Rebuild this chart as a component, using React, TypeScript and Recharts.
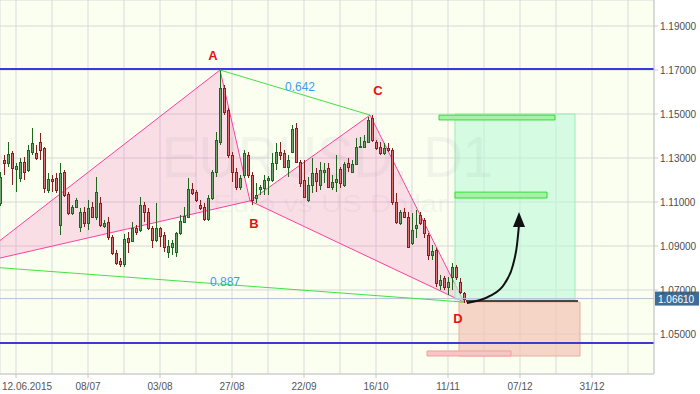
import React from "react";
import {
  ComposedChart,
  Bar,
  Area,
  Line,
  XAxis,
  YAxis,
  CartesianGrid,
  ReferenceLine,
  ReferenceArea,
  ReferenceDot,
} from "recharts";

// daily EURUSD bars, index 0 = 08.06.2015
const OPEN = [
  1.1095, 1.1291, 1.1277, 1.1323, 1.125, 1.1209, 1.1282, 1.1245, 1.1327, 1.1323,
  1.1373, 1.1345, 1.1155, 1.1205, 1.1209, 1.0995, 1.1236, 1.1136, 1.105, 1.1077,
  1.0986, 1.1055, 1.1005, 1.1077, 1.1032, 1.1095, 1.0991, 1.1009, 1.0941, 1.0868,
  1.0832, 1.0818, 1.0936, 1.0923, 1.0982, 1.0973, 1.1086, 1.1055, 1.0982, 1.0927,
  1.0982, 1.095, 1.0873, 1.0895, 1.0873, 1.0959, 1.1009, 1.1032, 1.1159, 1.1146,
  1.1086, 1.1077, 1.1023, 1.1118, 1.1236, 1.1373, 1.1618, 1.1518, 1.1313, 1.1236,
  1.1168, 1.1223, 1.1313, 1.1223, 1.1118, 1.1159, 1.1164, 1.12, 1.12, 1.1277,
  1.1327, 1.1323, 1.1259, 1.1327, 1.1436, 1.1282, 1.12, 1.1109, 1.1177, 1.1232,
  1.1177, 1.1236, 1.1254, 1.1168, 1.1191, 1.125, 1.1177, 1.1277, 1.1236, 1.1273,
  1.135, 1.135, 1.1373, 1.1482, 1.1373, 1.135, 1.1323, 1.1345, 1.1336, 1.11,
  1.1005, 1.1055, 1.1032, 1.0914, 1.0982, 1.1041, 1.1018, 1.095, 1.0859, 1.0882,
  1.0723, 1.0755, 1.0714, 1.0759, 1.0805, 1.0736, 1.0686,
];
const HIGH = [
  1.1236, 1.1313, 1.1373, 1.1332, 1.1277, 1.13, 1.1305, 1.1359, 1.1436, 1.1359,
  1.1414, 1.135, 1.1232, 1.1223, 1.1232, 1.1277, 1.1245, 1.1146, 1.1086, 1.1118,
  1.1073, 1.1077, 1.1109, 1.11, 1.1214, 1.1123, 1.1018, 1.1032, 1.095, 1.0882,
  1.0845, 1.0955, 1.0964, 1.1009, 1.0995, 1.1123, 1.11, 1.1073, 1.0991, 1.1095,
  1.0986, 1.0964, 1.0927, 1.0927, 1.0964, 1.1041, 1.1077, 1.1209, 1.1186, 1.1155,
  1.1109, 1.1095, 1.1132, 1.1245, 1.1418, 1.1702, 1.1632, 1.1527, 1.1327, 1.1254,
  1.1223, 1.1336, 1.1327, 1.1236, 1.1186, 1.1177, 1.1223, 1.1218, 1.1323, 1.1368,
  1.1373, 1.1336, 1.1313, 1.145, 1.1459, 1.1291, 1.1291, 1.1214, 1.13, 1.1254,
  1.1282, 1.1277, 1.1277, 1.1223, 1.1313, 1.1259, 1.1282, 1.13, 1.1291, 1.1391,
  1.1395, 1.1405, 1.1486, 1.1495, 1.1382, 1.1373, 1.1368, 1.1368, 1.1345, 1.1141,
  1.1064, 1.1073, 1.1055, 1.105, 1.1064, 1.1055, 1.1027, 1.0959, 1.0905, 1.0891,
  1.0768, 1.0764, 1.0759, 1.0823, 1.0814, 1.0755, 1.0691,
];
const LOW = [
  1.1082, 1.1223, 1.1259, 1.1177, 1.1146, 1.1191, 1.12, 1.1236, 1.1313, 1.1291,
  1.1291, 1.1141, 1.1141, 1.1146, 1.1141, 1.095, 1.1123, 1.1041, 1.1041, 1.1073,
  1.0964, 1.0986, 1.0973, 1.1027, 1.1018, 1.0986, 1.0982, 1.0927, 1.0859, 1.0814,
  1.0805, 1.0805, 1.0868, 1.0918, 1.095, 1.0964, 1.1009, 1.0973, 1.0891, 1.0918,
  1.0895, 1.0873, 1.0845, 1.0859, 1.085, 1.095, 1.1005, 1.1027, 1.1132, 1.11,
  1.1064, 1.1014, 1.1014, 1.1109, 1.1214, 1.1359, 1.1495, 1.13, 1.1191, 1.1155,
  1.1155, 1.1209, 1.1209, 1.1086, 1.1095, 1.1132, 1.1132, 1.1132, 1.1191, 1.1245,
  1.1291, 1.1254, 1.1214, 1.1323, 1.1277, 1.1168, 1.1118, 1.11, 1.1141, 1.1146,
  1.1155, 1.1186, 1.1164, 1.1155, 1.1146, 1.1164, 1.1168, 1.1236, 1.1232, 1.1268,
  1.1345, 1.1345, 1.1368, 1.1373, 1.1336, 1.1313, 1.1313, 1.1327, 1.1086, 1.1,
  1.0995, 1.1027, 1.0891, 1.0905, 1.0936, 1.0995, 1.0936, 1.0836, 1.0836, 1.0714,
  1.07, 1.07, 1.0677, 1.07, 1.0745, 1.0682, 1.0641,
];
const CLOSE = [
  1.1214, 1.1277, 1.1318, 1.1254, 1.1264, 1.1282, 1.1236, 1.1336, 1.1368, 1.13,
  1.1336, 1.1164, 1.1205, 1.1195, 1.1155, 1.1232, 1.1132, 1.105, 1.1077, 1.1109,
  1.1055, 1.1005, 1.1073, 1.1032, 1.1146, 1.0995, 1.1005, 1.0941, 1.0868, 1.0823,
  1.0818, 1.0932, 1.0918, 1.0982, 1.0964, 1.1086, 1.1055, 1.0982, 1.0927, 1.0982,
  1.0945, 1.0895, 1.09, 1.0914, 1.0959, 1.1014, 1.1036, 1.1159, 1.1141, 1.1109,
  1.1073, 1.1023, 1.1118, 1.1236, 1.1382, 1.1618, 1.1509, 1.1313, 1.1236, 1.1168,
  1.1209, 1.1323, 1.1223, 1.1109, 1.1132, 1.1168, 1.12, 1.1209, 1.1277, 1.1327,
  1.1313, 1.1259, 1.1291, 1.1432, 1.1282, 1.1186, 1.1123, 1.1177, 1.1232, 1.1195,
  1.1245, 1.1245, 1.1168, 1.1191, 1.1205, 1.1186, 1.1273, 1.1259, 1.1273, 1.135,
  1.1355, 1.1377, 1.1473, 1.1382, 1.1345, 1.1323, 1.1345, 1.1336, 1.11, 1.1009,
  1.1055, 1.1032, 1.0895, 1.0973, 1.0995, 1.1005, 1.0959, 1.0859, 1.0877, 1.0732,
  1.0745, 1.0714, 1.0736, 1.0805, 1.0759, 1.0691, 1.0661,
];

const GRID_BARS = [4, 13, 22, 31, 40, 49, 58, 67, 76, 85, 94, 103, 112, 121, 130, 139, 148, 157];
const TICK_BARS = [4, 22, 40, 58, 76, 94, 112, 130, 148];
const TICK_LABELS = ["12.06.2015", "08/07", "03/08", "27/08", "22/09", "16/10", "11/11", "07/12", "31/12"];
const PRICE_TICKS = [1.05, 1.07, 1.09, 1.11, 1.13, 1.15, 1.17, 1.19];
const PRICE_MIN = 1.031818;
const PRICE_MAX = 1.201818;
const BAR_MAX = 163.5;
const LAST_PRICE = 1.0661;

// harmonic pattern points
const PX = { i: -8, v: 1.0812 };
const PA = { i: 55, v: 1.17 };
const PB = { i: 62.5, v: 1.1105 };
const PC = { i: 92.5, v: 1.1495 };
const PD = { i: 116, v: 1.0645 };

const RESISTANCE = 1.1705;
const SUPPORT = 1.0459;

const ARROW_BARS = [116.75, 122.5, 126.25, 128.25, 129.25, 129.75];
const ARROW_PRICES = [1.0641, 1.0673, 1.0732, 1.0814, 1.0905, 1.0996];
const ARROW_TIP = { i: 129.75, v: 1.1055 };

const UP_FILL = "#6fa46f";
const UP_LINE = "#1d661d";
const DOWN_FILL = "#dd7272";
const DOWN_LINE = "#862020";
const PINK = "#ff3fa0";
const GREEN = "#44e044";

const candles = OPEN.map((o, k) => ({
  i: k,
  open: o,
  high: HIGH[k],
  low: LOW[k],
  close: CLOSE[k],
  range: [LOW[k], HIGH[k]],
}));

type Pt = { i: number; v: number };
function triangle(p: Pt, q: Pt, r: Pt) {
  const t = (q.i - p.i) / (r.i - p.i);
  const base = p.v + (r.v - p.v) * t;
  return [
    { i: p.i, band: [p.v, p.v] },
    { i: q.i, band: [base, q.v] },
    { i: r.i, band: [r.v, r.v] },
  ];
}
const xabData = triangle(PX, PA, PB);
const bcdData = triangle(PB, PC, PD);
const arrowData = ARROW_BARS.map((b, k) => ({ i: b, v: ARROW_PRICES[k] }));

function Candle(props: any) {
  const { x, y, width, height, payload } = props;
  if (!payload || height == null) return null;
  const { open, close, high, low } = payload;
  const up = close >= open;
  const k = height / (high - low || 1);
  const top = Math.round(y + (high - Math.max(open, close)) * k);
  const bot = Math.round(y + (high - Math.min(open, close)) * k);
  const cx = Math.round(x + width / 2);
  const col = up ? UP_LINE : DOWN_LINE;
  return (
    <g>
      <line x1={cx + 0.5} x2={cx + 0.5} y1={Math.round(y)} y2={Math.round(y + height)} stroke={col} />
      <rect
        x={cx - 0.5}
        y={top + 0.5}
        width={2}
        height={Math.max(bot - top, 1)}
        fill={up ? UP_FILL : DOWN_FILL}
        stroke={col}
      />
    </g>
  );
}

function DateTick(props: any) {
  const { x, y, payload } = props;
  const idx = TICK_BARS.indexOf(payload.value);
  if (idx < 0) return null;
  const first = idx === 0;
  return (
    <g>
      <line x1={x} x2={x} y1={y - 4} y2={y} stroke="#c8c8c8" />
      <text
        x={first ? 2 : x}
        y={y + 12}
        textAnchor={first ? "start" : "middle"}
        fontSize={10}
        fill="#555"
      >
        {TICK_LABELS[idx]}
      </text>
    </g>
  );
}

function PriceTag(props: any) {
  const vb = props.viewBox;
  if (!vb) return null;
  const x = vb.x + vb.width + 1;
  return (
    <g>
      <rect x={x} y={vb.y - 7} width={44} height={14} fill="#3f6d98" />
      <text x={x + 3} y={vb.y + 4} fill="#fff" fontSize={10}>
        {LAST_PRICE.toFixed(5)}
      </text>
    </g>
  );
}

function Watermark(text: string, size: number, len: number) {
  return (props: any) => {
    const vb = props.viewBox;
    if (!vb) return null;
    return (
      <text
        x={vb.x + vb.width / 2}
        y={vb.y + vb.height / 2}
        textAnchor="middle"
        dominantBaseline="central"
        fontSize={size}
        fill="#707090"
        fillOpacity={0.07}
        textLength={len}
        lengthAdjust="spacingAndGlyphs"
      >
        {text}
      </text>
    );
  };
}

function ArrowHead(props: any) {
  const { cx, cy } = props;
  return <polygon points={`${cx},${cy} ${cx - 6},${cy + 15} ${cx + 6},${cy + 15}`} fill="#111" />;
}

function tag(text: string, color: string, size: number, bold = true) {
  return { value: text, position: "center" as const, fill: color, fontSize: size, fontWeight: bold ? 700 : 400 };
}

export default function App() {
  return (
    <div
      style={{
        position: "absolute",
        left: 0,
        top: 0,
        width: 700,
        height: 394,
        background: "#fff",
        fontFamily: "'Liberation Sans', Arial, sans-serif",
      }}
    >
      <ComposedChart width={700} height={394} data={candles} margin={{ top: 0, right: 0, bottom: 0, left: 0 }}>
        <CartesianGrid stroke="#d9d9d9" fill="#fafff0" />
        <XAxis
          type="number"
          dataKey="i"
          domain={[0, BAR_MAX]}
          allowDataOverflow
          ticks={GRID_BARS}
          interval={0}
          height={20}
          tickSize={4}
          tickMargin={0}
          tickLine={false}
          axisLine={{ stroke: "#c8c8c8" }}
          tick={<DateTick />}
        />
        <YAxis
          orientation="right"
          type="number"
          domain={[PRICE_MIN, PRICE_MAX]}
          allowDataOverflow
          ticks={PRICE_TICKS}
          interval={0}
          width={46}
          tickSize={4}
          tickMargin={2}
          tickFormatter={(v: number) => v.toFixed(5)}
          tick={{ fill: "#4d4d4d", fontSize: 10 }}
          axisLine={{ stroke: "#c8c8c8" }}
          tickLine={{ stroke: "#c8c8c8" }}
        />

        <ReferenceDot x={81.9} y={1.1305} r={0} fill="none" stroke="none" label={{ content: Watermark("EURUSD, D1", 58, 331) }} />
        <ReferenceDot x={82.5} y={1.1093} r={0} fill="none" stroke="none" label={{ content: Watermark("Euro vs US Dollar", 23, 234) }} />

        <Area data={xabData} dataKey="band" type="linear" stroke={PINK} strokeWidth={1} fill="#fa5abe" fillOpacity={0.2} dot={false} activeDot={false} isAnimationActive={false} />
        <Area data={bcdData} dataKey="band" type="linear" stroke={PINK} strokeWidth={1} fill="#fa5abe" fillOpacity={0.2} dot={false} activeDot={false} isAnimationActive={false} />

        <ReferenceLine y={RESISTANCE} stroke="#3a3ad8" strokeWidth={2} />
        <ReferenceLine y={SUPPORT} stroke="#3a3ad8" strokeWidth={2} />
        <ReferenceLine y={LAST_PRICE} stroke="#b4c4d4" label={<PriceTag />} />

        <Bar dataKey="range" barSize={3} shape={(p: any) => <Candle {...p} />} isAnimationActive={false} />

        <ReferenceLine segment={[{ x: PA.i, y: PA.v }, { x: PC.i, y: PC.v }]} stroke={GREEN} ifOverflow="hidden" />
        <ReferenceLine segment={[{ x: PX.i, y: PX.v }, { x: PD.i, y: PD.v }]} stroke={GREEN} ifOverflow="hidden" />

        <ReferenceArea x1={113.75} x2={143.75} y1={1.0655} y2={1.15} fill="#bdf9d9" fillOpacity={0.6} stroke="#a0eab8" ifOverflow="hidden" />
        <ReferenceArea x1={114.75} x2={145} y1={1.04} y2={1.0645} fill="#f2c4b4" fillOpacity={0.7} stroke="#e8b0a0" ifOverflow="hidden" />
        <ReferenceArea x1={109.75} x2={138.75} y1={1.1473} y2={1.1495} fill="#a8f0a8" fillOpacity={1} stroke="#33dd33" ifOverflow="hidden" />
        <ReferenceArea x1={113.75} x2={136.75} y1={1.1118} y2={1.1145} fill="#a8f0a8" fillOpacity={1} stroke="#33dd33" ifOverflow="hidden" />
        <ReferenceArea x1={106.75} x2={127.75} y1={1.04} y2={1.0423} fill="#f8c4c4" fillOpacity={1} stroke="#f0a0a0" ifOverflow="hidden" />
        <ReferenceLine segment={[{ x: 116.5, y: 1.065 }, { x: 144.5, y: 1.065 }]} stroke="#111" strokeWidth={1.5} ifOverflow="hidden" />

        <Line data={arrowData} dataKey="v" type="monotone" stroke="#111" strokeWidth={2} dot={false} activeDot={false} isAnimationActive={false} />
        <ReferenceDot x={ARROW_TIP.i} y={ARROW_TIP.v} shape={<ArrowHead />} />

        <ReferenceDot x={53.25} y={1.1768} r={0} fill="none" stroke="none" label={tag("A", "#e81010", 13)} />
        <ReferenceDot x={63.5} y={1.1005} r={0} fill="none" stroke="none" label={tag("B", "#e81010", 13)} />
        <ReferenceDot x={94.5} y={1.1609} r={0} fill="none" stroke="none" label={tag("C", "#e81010", 13)} />
        <ReferenceDot x={114.5} y={1.0573} r={0} fill="none" stroke="none" label={tag("D", "#e81010", 13)} />
        <ReferenceDot x={75} y={1.1623} r={0} fill="none" stroke="none" label={tag("0.642", "#3c9cf0", 12, false)} />
        <ReferenceDot x={56.25} y={1.0736} r={0} fill="none" stroke="none" label={tag("0.887", "#3c9cf0", 12, false)} />
      </ComposedChart>
    </div>
  );
}
